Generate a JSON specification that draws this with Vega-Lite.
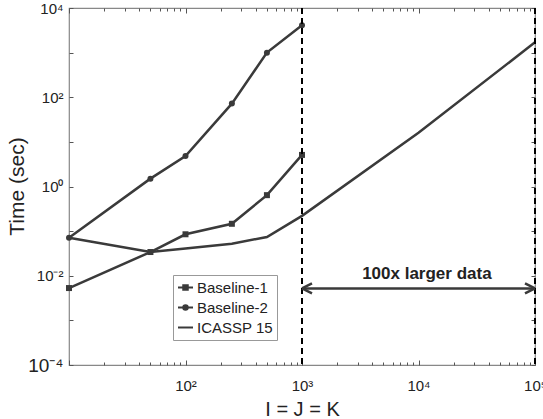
{
  "$schema": "https://vega.github.io/schema/vega-lite/v6.json",
  "autosize": {"type": "none"},
  "padding": {"left": 69, "top": 8, "right": 8, "bottom": 54},
  "width": 466,
  "height": 357,
  "background": "white",
  "config": {
    "view": {"stroke": "#888", "strokeWidth": 1.2},
    "font": "Liberation Sans",
    "axis": {"labelFont": "Liberation Sans", "titleFont": "Liberation Sans", "labelColor": "#222", "titleColor": "#222", "domain": false, "tickColor": "#555", "tickWidth": 1, "grid": false, "titleFontWeight": "normal"}
  },
  "datasets": {
    "series": [
      {"series": "Baseline-1", "n": 10, "t": 0.0053},
      {"series": "Baseline-1", "n": 50, "t": 0.034},
      {"series": "Baseline-1", "n": 100, "t": 0.085},
      {"series": "Baseline-1", "n": 250, "t": 0.146},
      {"series": "Baseline-1", "n": 500, "t": 0.64},
      {"series": "Baseline-1", "n": 1000, "t": 5.1},
      {"series": "Baseline-2", "n": 10, "t": 0.071},
      {"series": "Baseline-2", "n": 50, "t": 1.5},
      {"series": "Baseline-2", "n": 100, "t": 4.8},
      {"series": "Baseline-2", "n": 250, "t": 72},
      {"series": "Baseline-2", "n": 500, "t": 1000},
      {"series": "Baseline-2", "n": 1000, "t": 4100},
      {"series": "ICASSP 15", "n": 10, "t": 0.071},
      {"series": "ICASSP 15", "n": 50, "t": 0.034},
      {"series": "ICASSP 15", "n": 100, "t": 0.041},
      {"series": "ICASSP 15", "n": 250, "t": 0.052},
      {"series": "ICASSP 15", "n": 500, "t": 0.074},
      {"series": "ICASSP 15", "n": 1000, "t": 0.22},
      {"series": "ICASSP 15", "n": 10000, "t": 16},
      {"series": "ICASSP 15", "n": 100000, "t": 1700}
    ],
    "vlines": [{"n": 1000}, {"n": 100000}],
    "span": [{"from": 1000, "to": 100000, "t": 0.0052}],
    "heads": [{"n": 1000, "t": 0.0052, "angle": 0}, {"n": 100000, "t": 0.0052, "angle": 180}],
    "notes": [{"n": 11800, "t": 0.0107, "label": "100x larger data"}]
  },
  "resolve": {"axis": {"x": "independent", "y": "independent"}},
  "layer": [
    {
      "data": {"name": "series"},
      "mark": {"type": "line", "strokeWidth": 2.5},
      "encoding": {
        "x": {"field": "n", "type": "quantitative", "scale": {"type": "log", "domain": [10, 100000], "nice": false},
          "axis": {"orient": "bottom", "offset": -5, "tickSize": 5, "title": "I = J = K", "titleFontSize": 20, "titleX": 233, "titleY": 55, "titleBaseline": "alphabetic", "titleAnchor": null,
            "values": [10, 100, 1000, 10000, 100000],
            "labelExpr": "datum.value == 100 ? '10²' : datum.value == 1000 ? '10³' : datum.value == 10000 ? '10⁴' : datum.value == 100000 ? '10⁵' : ''",
            "labelOverlap": false, "labelFontSize": 15, "labelPadding": 13, "labelFlush": false}},
        "y": {"field": "t", "type": "quantitative", "scale": {"type": "log", "domain": [0.0001, 10000], "nice": false},
          "axis": {"orient": "left", "offset": -4, "tickSize": 4, "title": "Time (sec)", "titleFontSize": 21, "titleX": -46, "titleY": 178, "titleBaseline": "bottom", "titleAngle": 270, "titleAnchor": null,
            "values": [0.0001, 0.001, 0.01, 0.1, 1, 10, 100, 1000, 10000],
            "labelExpr": "datum.value == 10000 ? '10⁴' : datum.value == 100 ? '10²' : datum.value == 1 ? '10⁰' : datum.value == 0.01 ? '10⁻²' : datum.value == 0.0001 ? '10⁻⁴' : ''",
            "labelOverlap": false, "labelFlush": false, "labelPadding": 6,
            "labelFontSize": {"condition": {"test": "datum.value == 0.0001", "value": 19}, "value": 15}}},
        "color": {"field": "series", "type": "nominal", "scale": {"domain": ["Baseline-1", "Baseline-2", "ICASSP 15"], "range": ["#3a3a3a", "#3a3a3a", "#3a3a3a"]},
          "legend": {"orient": "none", "legendX": 104, "legendY": 267, "title": null, "labelFontSize": 15, "labelColor": "#222", "labelFont": "Liberation Sans",
            "strokeColor": "#999", "fillColor": "white", "padding": 4, "rowPadding": 3, "symbolSize": 225, "symbolStrokeWidth": 2, "symbolOffset": 0, "labelOffset": 3,
            "encode": {"symbols": {"update": {
              "shape": {"signal": "datum.value === 'ICASSP 15' ? 'M-1,0L1,0' : datum.value === 'Baseline-1' ? 'M-1,0L1,0M-0.3,-0.3L0.3,-0.3L0.3,0.3L-0.3,0.3Z' : 'M-1,0L1,0M-0.3,0A0.3,0.3 0 1,0 0.3,0A0.3,0.3 0 1,0 -0.3,0Z'"},
              "fill": {"value": "#3a3a3a"}, "stroke": {"value": "#3a3a3a"}, "strokeWidth": {"value": 2}}}}}}
      }
    },
    {
      "data": {"name": "series"},
      "transform": [{"filter": "datum.series !== 'ICASSP 15'"}],
      "mark": {"type": "point", "filled": true, "size": 36, "opacity": 1, "color": "#3a3a3a"},
      "encoding": {
        "x": {"field": "n", "type": "quantitative", "scale": {"type": "log", "domain": [10, 100000], "nice": false},
          "axis": {"orient": "top", "offset": -5, "tickSize": 5, "title": null, "labels": false, "values": [10, 100, 1000, 10000, 100000]}},
        "y": {"field": "t", "type": "quantitative", "scale": {"type": "log", "domain": [0.0001, 10000], "nice": false},
          "axis": {"orient": "right", "offset": -4, "tickSize": 4, "title": null, "labels": false, "values": [0.0001, 0.001, 0.01, 0.1, 1, 10, 100, 1000, 10000]}},
        "shape": {"field": "series", "type": "nominal", "scale": {"domain": ["Baseline-1", "Baseline-2"], "range": ["square", "circle"]}, "legend": null}
      }
    },
    {
      "data": {"name": "vlines"},
      "mark": {"type": "rule", "color": "#000", "strokeWidth": 2, "strokeDash": [6, 4]},
      "encoding": {
        "x": {"field": "n", "type": "quantitative", "scale": {"type": "log", "domain": [10, 100000], "nice": false},
          "axis": {"orient": "bottom", "offset": -3, "tickSize": 3, "title": null, "labels": false,
            "values": [20,30,40,50,60,70,80,90,200,300,400,500,600,700,800,900,2000,3000,4000,5000,6000,7000,8000,9000,20000,30000,40000,50000,60000,70000,80000,90000]}}
      }
    },
    {
      "data": {"name": "span"},
      "mark": {"type": "rule", "color": "#3a3a3a", "strokeWidth": 2.5},
      "encoding": {
        "x": {"field": "from", "type": "quantitative", "scale": {"type": "log", "domain": [10, 100000], "nice": false},
          "axis": {"orient": "top", "offset": -3, "tickSize": 3, "title": null, "labels": false,
            "values": [20,30,40,50,60,70,80,90,200,300,400,500,600,700,800,900,2000,3000,4000,5000,6000,7000,8000,9000,20000,30000,40000,50000,60000,70000,80000,90000]}},
        "x2": {"field": "to"},
        "y": {"field": "t", "type": "quantitative", "scale": {"type": "log", "domain": [0.0001, 10000], "nice": false}, "axis": null}
      }
    },
    {
      "data": {"name": "heads"},
      "mark": {"type": "point", "shape": "M0,0L2,-1M0,0L2,1", "filled": false, "size": 100, "strokeWidth": 2.5, "color": "#3a3a3a", "opacity": 1},
      "encoding": {
        "x": {"field": "n", "type": "quantitative", "scale": {"type": "log", "domain": [10, 100000], "nice": false}, "axis": null},
        "y": {"field": "t", "type": "quantitative", "scale": {"type": "log", "domain": [0.0001, 10000], "nice": false}, "axis": null},
        "angle": {"field": "angle", "type": "quantitative", "scale": null}
      }
    },
    {
      "data": {"name": "notes"},
      "mark": {"type": "text", "fontWeight": "bold", "fontSize": 17, "color": "#222", "font": "Liberation Sans"},
      "encoding": {
        "x": {"field": "n", "type": "quantitative", "scale": {"type": "log", "domain": [10, 100000], "nice": false}, "axis": null},
        "y": {"field": "t", "type": "quantitative", "scale": {"type": "log", "domain": [0.0001, 10000], "nice": false}, "axis": null},
        "text": {"field": "label"}
      }
    }
  ]
}
